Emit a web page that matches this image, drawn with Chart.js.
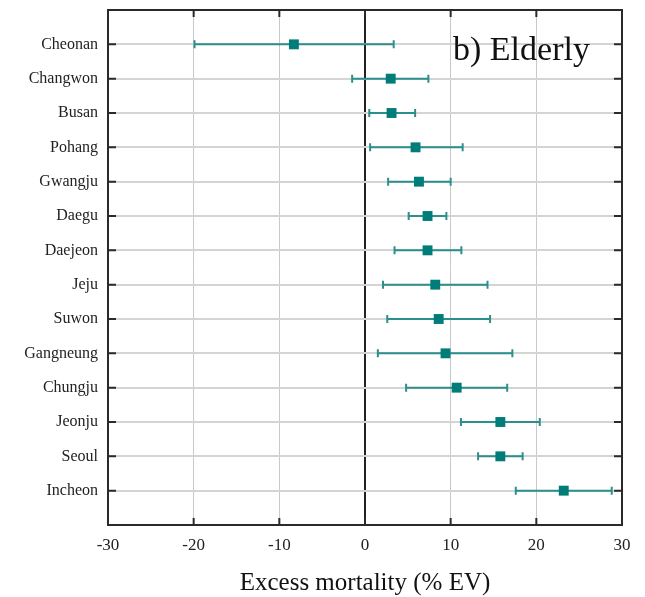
<!DOCTYPE html>
<html>
<head>
<meta charset="utf-8">
<script src="https://cdn.jsdelivr.net/npm/chart.js@4"></script>
<style>
  html, body { margin: 0; padding: 0; background: #fff; }
  #wrap { width: 645px; height: 597px; }
</style>
</head>
<body>
<div id="wrap"><canvas id="chart"></canvas></div>
<script>
const cities = ['Cheonan', 'Changwon', 'Busan', 'Pohang', 'Gwangju', 'Daegu', 'Daejeon',
    'Jeju', 'Suwon', 'Gangneung', 'Chungju', 'Jeonju', 'Seoul', 'Incheon'];
const estimate = [-8.3, 3.0, 3.1, 5.9, 6.3, 7.3, 7.3, 8.2, 8.6, 9.4, 10.7, 15.8, 15.8, 23.2];
const lower = [-19.9, -1.5, 0.5, 0.6, 2.7, 5.1, 3.45, 2.1, 2.6, 1.5, 4.8, 11.2, 13.2, 17.6];
const upper = [3.35, 7.4, 5.85, 11.4, 10.0, 9.5, 11.25, 14.3, 14.6, 17.2, 16.6, 20.4, 18.4, 28.8];
const xTicks = [-30, -20, -10, 0, 10, 20, 30];

const teal = '#007d79';
const barTeal = '#2b8f8c';
const frame = '#2a2a2a';
const serif = "'Liberation Serif', 'DejaVu Serif', serif";

// error bars and frame drawn through the chart's own scales
const errorBars = {
    id: 'errorBars',
    beforeDatasetsDraw(chart) {
        const ctx = chart.ctx;
        const xs = chart.scales.x, ys = chart.scales.y;
        ctx.save();
        ctx.strokeStyle = barTeal;
        ctx.lineWidth = 2;
        cities.forEach((c, i) => {
            const y = ys.getPixelForValue(i);
            const x0 = xs.getPixelForValue(lower[i]);
            const x1 = xs.getPixelForValue(upper[i]);
            ctx.beginPath();
            ctx.moveTo(x0, y); ctx.lineTo(x1, y);
            ctx.moveTo(x0, y - 4); ctx.lineTo(x0, y + 4);
            ctx.moveTo(x1, y - 4); ctx.lineTo(x1, y + 4);
            ctx.stroke();
        });
        ctx.restore();
    },
    afterDraw(chart) {
        const ctx = chart.ctx;
        const a = chart.chartArea;
        const xs = chart.scales.x, ys = chart.scales.y;
        ctx.save();
        ctx.strokeStyle = frame;
        ctx.lineWidth = 2;
        ctx.strokeRect(a.left, a.top, a.right - a.left, a.bottom - a.top);
        ctx.beginPath();
        xTicks.slice(1, -1).forEach(v => {
            const x = xs.getPixelForValue(v);
            ctx.moveTo(x, a.top); ctx.lineTo(x, a.top + 7);
            ctx.moveTo(x, a.bottom); ctx.lineTo(x, a.bottom - 7);
        });
        cities.forEach((c, i) => {
            const y = ys.getPixelForValue(i);
            ctx.moveTo(a.left, y); ctx.lineTo(a.left + 8, y);
            ctx.moveTo(a.right, y); ctx.lineTo(a.right - 8, y);
        });
        ctx.stroke();
        ctx.fillStyle = '#111';
        ctx.font = '34px ' + serif;
        ctx.textAlign = 'left';
        ctx.textBaseline = 'middle';
        ctx.fillText('b) Elderly', a.left + 345, a.top + 41);
        ctx.restore();
    }
};

new Chart(document.getElementById('chart'), {
    type: 'scatter',
    data: {
        datasets: [{
            label: 'Elderly',
            data: estimate.map((v, i) => ({ x: v, y: i })),
            pointStyle: 'rect',
            pointRadius: 7,
            pointHoverRadius: 7,
            backgroundColor: teal,
            borderColor: teal,
            borderWidth: 0
        }]
    },
    options: {
        responsive: true,
        maintainAspectRatio: false,
        animation: false,
        layout: { padding: { top: 10, right: 23, left: 0, bottom: 0 } },
        plugins: {
            legend: { display: false },
            tooltip: { enabled: false }
        },
        scales: {
            x: {
                type: 'linear',
                min: -30,
                max: 30,
                afterBuildTicks: s => { s.ticks = xTicks.map(v => ({ value: v })); },
                afterFit: s => { s.height = 72; },
                grid: {
                    drawTicks: false,
                    color: ctx => ctx.tick && ctx.tick.value === 0 ? '#222' : '#c9c9c9',
                    lineWidth: ctx => ctx.tick && ctx.tick.value === 0 ? 2 : 1
                },
                border: { display: false },
                ticks: { color: '#222', font: { family: serif, size: 17 }, padding: 10 },
                title: {
                    display: true,
                    text: 'Excess mortality (% EV)',
                    color: '#111',
                    font: { family: serif, size: 25 },
                    padding: { top: 15, bottom: -1.5 }
                }
            },
            y: {
                type: 'linear',
                min: -1,
                max: 14,
                reverse: true,
                afterBuildTicks: s => { s.ticks = cities.map((c, i) => ({ value: i })); },
                afterFit: s => { s.width = 108; s.paddingTop = 0; s.paddingBottom = 0; },
                grid: { drawTicks: false, color: '#d4d4d4', lineWidth: 2 },
                border: { display: false },
                ticks: {
                    color: '#222',
                    font: { family: serif, size: 16 },
                    padding: 10,
                    callback: v => cities[v] || ''
                }
            }
        }
    },
    plugins: [errorBars]
});
</script>
</body>
</html>
